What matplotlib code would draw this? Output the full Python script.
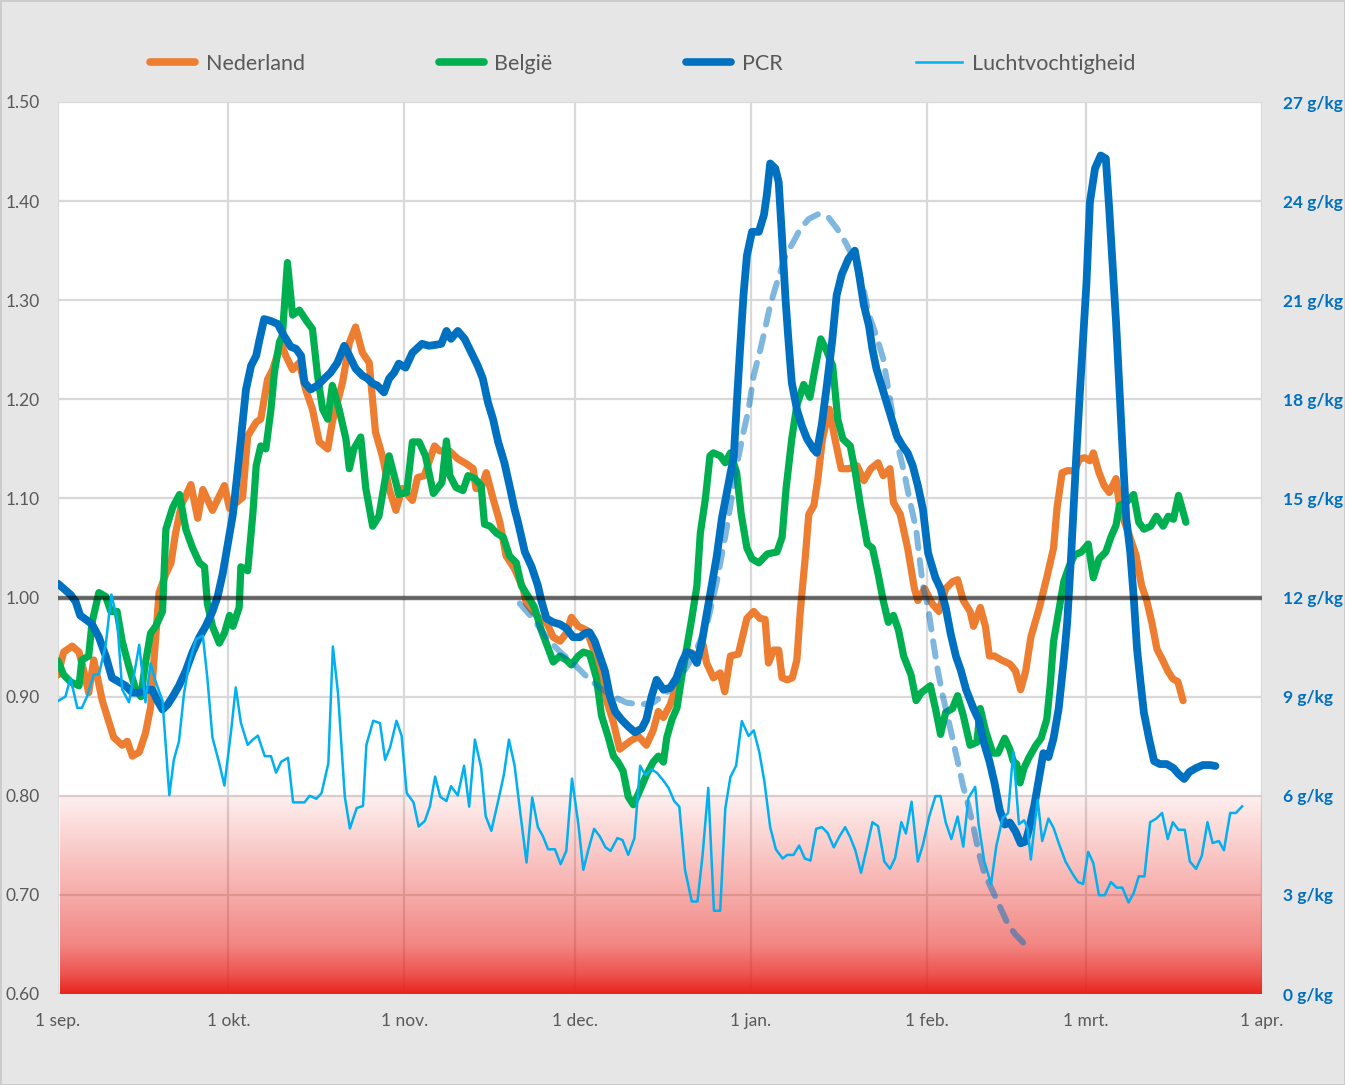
import numpy as np
import matplotlib
matplotlib.use("Agg")
import matplotlib.pyplot as plt
from matplotlib.lines import Line2D

plt.rcParams['font.family'] = ['Lato', 'DejaVu Sans']

# x = dagen sinds 1 sep.
maand_dag = [0, 30, 61, 91, 122, 153, 181, 212]
maand_label = ['1 sep.', '1 okt.', '1 nov.', '1 dec.', '1 jan.', '1 feb.', '1 mrt.', '1 apr.']

# Nederland (oranje)
ned_dag = [0, 1.0, 2.5, 3.7, 4.7, 5.4, 6.3, 7.8, 9.0, 9.8, 11.3, 12.2, 13.1, 14.3, 15.4, 16.3, 16.9,
           17.8, 19.0, 19.9, 20.7, 21.7, 23.4, 24.6, 25.5, 27.2, 29.3, 30.2, 32.5, 33.4, 34.9, 35.7,
           36.9, 37.8, 39.3, 40.1, 41.3, 42.5, 43.6, 44.8, 46.0, 47.5, 48.3, 50.1, 51.3, 52.4, 53.6,
           54.8, 55.9, 57.1, 58.3, 59.5, 60.6, 62.4, 63.3, 64.5, 66.3, 67.2, 68.9, 70.4, 71.9, 73.1,
           73.6, 74.5, 75.4, 76.6, 77.8, 78.9, 80.4, 81.9, 82.5, 83.6, 84.8, 86.0, 87.2, 88.4, 89.5,
           90.4, 91.6, 93.1, 94.2, 95.4, 96.6, 97.8, 98.9, 100.7, 102.2, 103.6, 104.8, 105.7, 106.6,
           107.8, 108.9, 110.1, 111.3, 112.5, 113.6, 114.2, 115.4, 116.6, 117.4, 118.4, 119.8, 121.3,
           122.5, 123.6, 124.5, 125.1, 126.0, 126.9, 127.5, 128.4, 129.3, 130.1, 130.7, 131.6, 132.2,
           133.1, 133.8, 134.6, 135.8, 136.7, 137.9, 139.2, 140.7, 141.9, 143.1, 144.4, 145.3, 146.5,
           147.1, 148.3, 149.6, 150.8, 151.4, 152.6, 153.9, 155.1, 156.3, 157.5, 158.4, 159.4, 160.6,
           161.2, 162.4, 163.3, 164.0, 164.9, 166.1, 167.6, 168.6, 169.5, 170.4, 171.3, 172.8, 174.1,
           175.3, 175.9, 176.8, 177.7, 179.0, 179.9, 180.8, 181.7, 182.3, 183.3, 184.2, 185.1, 186.3,
           186.9, 187.8, 188.8, 189.8, 190.8, 191.7, 192.6, 193.5, 194.5, 195.4, 196.3, 197.2, 198.1]
ned_val = [0.922, 0.945, 0.951, 0.945, 0.922, 0.904, 0.937, 0.896, 0.874, 0.859, 0.851, 0.855, 0.840,
           0.844, 0.863, 0.889, 0.937, 1.005, 1.024, 1.035, 1.065, 1.093, 1.114, 1.080, 1.109, 1.088,
           1.113, 1.090, 1.101, 1.163, 1.177, 1.180, 1.220, 1.230, 1.257, 1.244, 1.230, 1.237, 1.210,
           1.190, 1.157, 1.150, 1.177, 1.217, 1.257, 1.273, 1.247, 1.237, 1.167, 1.143, 1.110, 1.088,
           1.110, 1.098, 1.121, 1.123, 1.153, 1.148, 1.148, 1.140, 1.135, 1.130, 1.110, 1.110, 1.126,
           1.100, 1.076, 1.042, 1.029, 1.009, 0.994, 0.986, 0.979, 0.975, 0.960, 0.956, 0.964, 0.980,
           0.971, 0.967, 0.949, 0.926, 0.896, 0.874, 0.847, 0.855, 0.860, 0.851, 0.866, 0.885, 0.879,
           0.892, 0.911, 0.937, 0.945, 0.941, 0.952, 0.934, 0.919, 0.924, 0.905, 0.941, 0.943, 0.979,
           0.986, 0.979, 0.978, 0.934, 0.947, 0.947, 0.919, 0.917, 0.919, 0.937, 0.986, 1.042, 1.084,
           1.093, 1.120, 1.160, 1.190, 1.163, 1.130, 1.130, 1.133, 1.118, 1.130, 1.136, 1.123, 1.130,
           1.096, 1.084, 1.050, 1.009, 0.997, 1.009, 0.994, 0.986, 1.009, 1.016, 1.018, 0.997, 0.986,
           0.971, 0.990, 0.971, 0.941, 0.941, 0.937, 0.933, 0.926, 0.907, 0.926, 0.960, 0.990, 1.020,
           1.050, 1.090, 1.126, 1.128, 1.128, 1.140, 1.141, 1.138, 1.146, 1.126, 1.113, 1.106, 1.120,
           1.093, 1.076, 1.060, 1.043, 1.012, 0.997, 0.975, 0.948, 0.937, 0.926, 0.918, 0.915, 0.896]

# België (groen)
bel_dag = [0, 1.0, 2.2, 3.7, 4.2, 5.4, 6.0, 7.2, 8.4, 9.3, 10.4, 11.3, 12.5, 13.7, 14.6, 15.4, 16.3,
           17.2, 18.4, 19.0, 20.2, 21.4, 22.5, 23.7, 24.9, 25.8, 26.3, 27.2, 28.4, 29.3, 30.2, 30.8,
           31.9, 32.2, 33.4, 34.3, 34.9, 35.7, 36.6, 37.5, 38.1, 39.0, 39.5, 40.4, 41.3, 42.5, 43.9,
           44.8, 45.7, 46.6, 47.5, 48.3, 49.5, 50.7, 51.3, 52.1, 53.3, 54.2, 55.4, 56.5, 58.3, 59.5,
           60.0, 61.4, 62.4, 63.6, 64.7, 66.1, 67.6, 68.4, 69.0, 70.1, 71.3, 72.2, 73.4, 74.5, 75.1,
           76.1, 77.2, 78.4, 79.5, 80.7, 81.6, 82.8, 83.9, 85.1, 86.3, 87.2, 88.4, 89.5, 90.4, 91.6,
           92.5, 93.6, 94.8, 95.7, 96.9, 97.8, 98.6, 99.5, 100.4, 101.3, 102.2, 103.6, 104.8, 105.7,
           106.6, 107.2, 108.1, 109.0, 109.8, 110.7, 111.6, 112.5, 113.1, 114.0, 114.8, 115.4, 116.6,
           117.5, 118.4, 119.5, 120.3, 121.3, 122.2, 123.4, 124.9, 126.6, 127.5, 128.2, 129.2, 130.1,
           131.3, 132.4, 133.3, 134.3, 135.2, 136.4, 137.3, 138.2, 139.5, 140.4, 141.3, 142.5, 143.4,
           144.4, 145.3, 146.2, 147.1, 148.0, 148.9, 150.2, 151.1, 152.0, 153.6, 154.5, 155.4, 156.3,
           157.5, 158.4, 159.4, 160.6, 161.8, 162.4, 163.3, 164.6, 165.5, 166.7, 167.6, 168.2, 168.8,
           169.4, 170.1, 171.0, 172.2, 173.1, 174.1, 174.7, 175.3, 176.2, 177.1, 178.0, 179.0, 180.2,
           181.4, 182.3, 183.3, 184.5, 185.4, 186.3, 186.9, 188.1, 189.4, 190.3, 191.2, 192.4, 193.4,
           194.6, 195.5, 196.4, 197.3, 198.6]
bel_val = [0.936, 0.922, 0.915, 0.911, 0.937, 0.941, 0.975, 1.005, 1.001, 0.986, 0.986, 0.956, 0.930,
           0.907, 0.900, 0.934, 0.964, 0.971, 0.986, 1.069, 1.091, 1.104, 1.069, 1.050, 1.035, 1.031,
           0.994, 0.971, 0.954, 0.964, 0.982, 0.971, 0.990, 1.031, 1.027, 1.084, 1.133, 1.153, 1.150,
           1.190, 1.227, 1.258, 1.264, 1.338, 1.285, 1.290, 1.278, 1.271, 1.224, 1.190, 1.180, 1.214,
           1.190, 1.160, 1.130, 1.150, 1.162, 1.110, 1.072, 1.082, 1.143, 1.116, 1.104, 1.106, 1.157,
           1.157, 1.143, 1.105, 1.116, 1.158, 1.123, 1.111, 1.108, 1.123, 1.120, 1.113, 1.074, 1.072,
           1.065, 1.061, 1.042, 1.035, 1.012, 1.001, 0.990, 0.967, 0.949, 0.935, 0.941, 0.937, 0.932,
           0.941, 0.945, 0.943, 0.919, 0.881, 0.859, 0.840, 0.834, 0.825, 0.799, 0.791, 0.802, 0.821,
           0.834, 0.840, 0.834, 0.859, 0.877, 0.889, 0.919, 0.949, 0.979, 1.012, 1.065, 1.100, 1.143,
           1.146, 1.143, 1.136, 1.146, 1.126, 1.084, 1.050, 1.039, 1.035, 1.044, 1.046, 1.061, 1.110,
           1.160, 1.194, 1.215, 1.202, 1.231, 1.261, 1.251, 1.234, 1.180, 1.160, 1.153, 1.126, 1.093,
           1.054, 1.050, 1.024, 0.997, 0.975, 0.982, 0.967, 0.941, 0.922, 0.896, 0.904, 0.911, 0.888,
           0.862, 0.884, 0.888, 0.901, 0.881, 0.851, 0.854, 0.888, 0.866, 0.843, 0.843, 0.858, 0.847,
           0.835, 0.832, 0.813, 0.828, 0.839, 0.851, 0.858, 0.877, 0.911, 0.956, 0.986, 1.016, 1.031,
           1.043, 1.046, 1.054, 1.020, 1.039, 1.046, 1.061, 1.073, 1.093, 1.096, 1.104, 1.076, 1.069,
           1.072, 1.082, 1.072, 1.082, 1.079, 1.103, 1.076]

# PCR (blauw)
pcr_dag = [0, 1.0, 2.2, 3.1, 3.9, 5.1, 6.0, 7.2, 8.4, 9.5, 10.7, 11.9, 13.1, 14.3, 15.4, 16.6, 17.5,
           18.4, 19.3, 20.2, 21.3, 22.5, 23.7, 24.9, 26.0, 27.2, 28.1, 29.0, 29.9, 30.8, 31.6, 32.5,
           33.1, 34.0, 34.9, 35.4, 36.3, 37.5, 38.7, 39.8, 41.0, 41.9, 42.8, 43.4, 44.5, 45.7, 46.9,
           48.0, 49.2, 50.4, 51.3, 52.4, 53.6, 54.5, 55.4, 56.2, 57.4, 58.3, 59.2, 60.0, 61.2, 62.4,
           64.1, 65.3, 66.5, 67.5, 68.4, 69.2, 70.4, 71.6, 72.8, 73.9, 74.8, 75.7, 76.6, 77.5, 78.6,
           79.5, 80.4, 81.0, 82.2, 83.4, 84.5, 85.1, 86.0, 87.2, 88.4, 89.5, 90.7, 91.9, 92.8, 93.6,
           94.5, 95.4, 96.3, 97.2, 98.1, 99.2, 100.4, 101.6, 102.8, 103.6, 104.5, 105.4, 106.6, 107.8,
           108.9, 109.8, 110.7, 111.6, 112.5, 113.4, 114.3, 115.1, 116.0, 116.9, 118.1, 119.0, 119.5,
           120.1, 120.7, 121.3, 122.2, 123.4, 124.3, 124.8, 125.4, 126.3, 126.9, 127.5, 128.1, 128.6,
           129.2, 130.1, 131.0, 131.9, 133.0, 133.6, 134.5, 135.4, 136.3, 137.1, 138.0, 139.2, 140.3,
           141.0, 141.9, 142.8, 143.4, 144.1, 145.0, 145.9, 146.8, 147.7, 148.7, 149.6, 150.5, 151.4,
           152.3, 153.2, 154.5, 155.4, 156.3, 157.2, 158.1, 159.0, 159.9, 161.2, 162.1, 163.0, 164.0,
           164.9, 165.8, 166.7, 167.6, 168.6, 169.5, 170.4, 171.0, 171.9, 172.8, 173.5, 174.4, 175.3,
           176.2, 177.1, 177.7, 178.0, 178.4, 179.3, 179.9, 180.5, 181.1, 181.7, 182.6, 183.6, 184.5,
           185.1, 185.7, 186.3, 186.9, 187.5, 188.1, 188.8, 189.4, 190.0, 190.6, 191.2, 192.1, 193.0,
           194.0, 195.2, 196.4, 197.3, 198.3, 199.2, 200.4, 201.6, 202.9, 203.8]
pcr_val = [1.014, 1.009, 1.003, 0.996, 0.982, 0.977, 0.973, 0.960, 0.941, 0.919, 0.915, 0.911, 0.904,
           0.904, 0.907, 0.907, 0.896, 0.887, 0.892, 0.900, 0.911, 0.926, 0.945, 0.960, 0.971, 0.986,
           1.001, 1.024, 1.054, 1.084, 1.126, 1.177, 1.210, 1.234, 1.244, 1.258, 1.281, 1.279, 1.276,
           1.264, 1.253, 1.251, 1.244, 1.217, 1.210, 1.214, 1.221, 1.227, 1.237, 1.254, 1.244, 1.231,
           1.224, 1.221, 1.216, 1.214, 1.207, 1.221, 1.227, 1.236, 1.232, 1.247, 1.256, 1.254, 1.255,
           1.256, 1.269, 1.261, 1.269, 1.261, 1.247, 1.234, 1.221, 1.197, 1.180, 1.157, 1.136, 1.113,
           1.089, 1.076, 1.046, 1.031, 1.012, 0.997, 0.979, 0.975, 0.973, 0.969, 0.960, 0.960, 0.964,
           0.965, 0.956, 0.941, 0.926, 0.900, 0.885, 0.877, 0.870, 0.864, 0.868, 0.877, 0.900, 0.917,
           0.907, 0.909, 0.919, 0.934, 0.945, 0.943, 0.934, 0.956, 0.986, 1.012, 1.042, 1.080, 1.116,
           1.143, 1.194, 1.251, 1.305, 1.345, 1.369, 1.369, 1.386, 1.406, 1.438, 1.433, 1.419, 1.362,
           1.301, 1.261, 1.217, 1.190, 1.173, 1.160, 1.150, 1.146, 1.175, 1.215, 1.258, 1.305, 1.326,
           1.342, 1.350, 1.328, 1.295, 1.274, 1.251, 1.231, 1.214, 1.197, 1.180, 1.163, 1.153, 1.146,
           1.133, 1.113, 1.089, 1.045, 1.020, 1.009, 0.990, 0.963, 0.941, 0.926, 0.907, 0.888, 0.877,
           0.854, 0.835, 0.813, 0.786, 0.771, 0.773, 0.764, 0.752, 0.754, 0.767, 0.790, 0.820, 0.843,
           0.839, 0.858, 0.888, 0.937, 0.975, 1.005, 1.043, 1.143, 1.204, 1.261, 1.318, 1.399, 1.433,
           1.446, 1.443, 1.392, 1.335, 1.278, 1.210, 1.143, 1.080, 1.046, 1.001, 0.948, 0.915, 0.884,
           0.858, 0.835, 0.832, 0.832, 0.828, 0.822, 0.817, 0.824, 0.828, 0.831, 0.831, 0.830]

# gestippelde lijn (PCR verwachting)
prog_dag = [81.3, 83.6, 86.0, 88.4, 90.7, 93.1, 95.4, 97.8, 100.1, 102.5, 104.8, 107.2, 109.5, 111.9,
            114.2, 116.0, 117.5, 118.4, 119.5, 120.7, 121.6, 122.5, 123.7, 124.5, 125.4, 126.6, 128.1,
            129.5, 130.7, 132.2, 133.9, 135.6, 137.2, 138.8, 140.4, 141.6, 142.8, 144.1, 145.3, 146.2,
            147.1, 148.0, 149.0, 149.9, 151.1, 151.7, 152.3, 153.2, 153.9, 154.8, 155.7, 156.6, 157.5,
            158.4, 159.4, 160.3, 161.2, 162.2, 163.1, 164.0, 164.9, 166.1, 167.3, 168.6, 170.1]
prog_val = [0.994, 0.979, 0.960, 0.945, 0.934, 0.920, 0.909, 0.900, 0.894, 0.892, 0.894, 0.904, 0.919,
            0.941, 0.971, 1.016, 1.062, 1.093, 1.133, 1.167, 1.190, 1.224, 1.251, 1.271, 1.295, 1.318,
            1.345, 1.359, 1.372, 1.382, 1.387, 1.384, 1.372, 1.357, 1.338, 1.318, 1.285, 1.264, 1.241,
            1.210, 1.180, 1.150, 1.126, 1.100, 1.069, 1.039, 1.012, 0.990, 0.963, 0.930, 0.903, 0.881,
            0.858, 0.835, 0.809, 0.790, 0.768, 0.741, 0.722, 0.711, 0.700, 0.685, 0.670, 0.660, 0.651]

# Luchtvochtigheid (g/kg, rechter as)
lv_dag = [0.1, 1.3, 2.2, 3.4, 4.2, 5.1, 6.3, 7.2, 8.4, 9.4, 10.4, 11.3, 12.5, 13.4, 14.3, 15.4, 16.3,
          17.2, 18.4, 19.6, 20.4, 21.3, 22.2, 23.1, 24.3, 25.5, 26.3, 27.2, 28.4, 29.3, 30.5, 31.3,
          32.2, 33.4, 34.3, 35.2, 36.4, 37.5, 38.4, 39.3, 40.5, 41.4, 42.4, 43.4, 44.3, 45.5, 46.4,
          47.6, 48.4, 49.3, 50.5, 51.4, 52.6, 53.7, 54.3, 55.5, 56.7, 57.6, 58.5, 59.6, 60.5, 61.4,
          62.6, 63.5, 64.6, 65.5, 66.4, 67.3, 68.4, 69.2, 70.4, 71.5, 72.4, 73.4, 74.5, 75.3, 76.3,
          77.5, 78.5, 79.4, 80.4, 81.3, 82.5, 83.5, 84.5, 85.4, 86.3, 87.5, 88.5, 89.5, 90.5, 91.6,
          92.5, 93.4, 94.4, 95.4, 96.4, 97.3, 98.5, 99.4, 100.4, 101.5, 102.5, 103.4, 104.5, 105.5,
          106.6, 107.5, 108.5, 109.4, 110.4, 111.6, 112.6, 113.5, 114.5, 115.5, 116.6, 117.5, 118.4,
          119.4, 120.4, 121.6, 122.5, 123.5, 124.4, 125.4, 126.4, 127.6, 128.4, 129.5, 130.5, 131.5,
          132.5, 133.5, 134.5, 135.5, 136.6, 137.6, 138.6, 139.5, 140.4, 141.4, 142.4, 143.4, 144.4,
          145.5, 146.5, 147.4, 148.5, 149.3, 150.3, 151.4, 152.3, 153.4, 154.5, 155.4, 156.3, 157.3,
          158.4, 159.4, 160.3, 161.5, 162.1, 163.1, 164.3, 165.2, 166.3, 167.3, 168.2, 169.2, 170.1,
          170.7, 171.3, 171.9, 172.5, 173.3, 174.4, 175.3, 176.2, 177.4, 178.7, 179.6, 180.5, 181.4,
          182.3, 183.3, 184.3, 185.4, 186.4, 187.4, 188.5, 189.4, 190.3, 191.3, 192.3, 193.4, 194.4,
          195.4, 196.3, 197.3, 198.4, 199.3, 200.4, 201.4, 202.4, 203.3, 204.4, 205.3, 206.4, 207.4,
          208.5]
lv_val = [8.88, 9.00, 9.56, 8.66, 8.66, 9.00, 9.67, 9.67, 10.57, 12.09, 11.36, 9.22, 8.83, 9.67, 10.57,
          8.83, 10.01, 9.45, 8.88, 6.02, 7.09, 7.65, 9.11, 10.01, 10.74, 10.85, 9.56, 7.76, 6.98, 6.31,
          7.99, 9.28, 8.21, 7.54, 7.70, 7.82, 7.20, 7.20, 6.70, 7.03, 7.15, 5.80, 5.80, 5.80, 6.00, 5.91,
          6.08, 6.98, 10.52, 9.11, 5.97, 5.01, 5.63, 5.69, 7.54, 8.27, 8.20, 7.09, 7.48, 8.27, 7.82,
          6.08, 5.80, 5.07, 5.24, 5.69, 6.58, 5.97, 5.84, 6.29, 6.01, 6.91, 5.67, 7.70, 6.86, 5.39,
          4.94, 5.84, 6.63, 7.70, 6.91, 5.62, 3.98, 5.95, 5.05, 4.77, 4.38, 4.38, 3.93, 4.33, 6.52,
          5.17, 3.76, 4.38, 5.00, 4.77, 4.44, 4.33, 4.72, 4.66, 4.21, 4.72, 6.91, 6.63, 6.80, 6.69,
          6.46, 6.24, 5.84, 5.67, 3.76, 2.80, 2.80, 4.21, 6.24, 2.52, 2.52, 5.62, 6.57, 6.91, 8.26,
          7.81, 7.98, 7.31, 6.41, 5.05, 4.38, 4.10, 4.21, 4.21, 4.49, 4.10, 4.04, 5.00, 5.05, 4.88,
          4.44, 4.77, 5.05, 4.74, 4.35, 3.67, 4.41, 5.20, 5.08, 4.01, 3.79, 4.12, 5.20, 4.86, 5.82,
          4.01, 4.52, 5.37, 5.99, 5.99, 5.20, 4.69, 5.37, 4.46, 5.93, 6.27, 5.14, 4.01, 3.33, 4.46,
          5.31, 5.48, 7.34, 5.14, 5.26, 5.03, 4.07, 5.03, 5.88, 4.63, 5.31, 5.03, 4.57, 4.01, 3.62,
          3.39, 3.33, 4.30, 3.96, 2.99, 2.99, 3.39, 3.22, 3.22, 2.77, 3.05, 3.56, 3.56, 5.20, 5.31,
          5.48, 4.69, 5.20, 4.97, 4.97, 4.01, 3.79, 4.18, 5.20, 4.57, 4.63, 4.35, 5.48, 5.48, 5.68]

links_ticks = [0.6, 0.7, 0.8, 0.9, 1.0, 1.1, 1.2, 1.3, 1.4, 1.5]
rechts_ticks = [0, 3, 6, 9, 12, 15, 18, 21, 24, 27]

grijs = '#595959'
c_ned = '#ed7d31'
c_bel = '#00b050'
c_pcr = '#0070c0'
c_lv = '#00b0f0'

fig = plt.figure(figsize=(13.45, 10.85), dpi=100, facecolor='#e7e6e6',
                 edgecolor='#cccccc', linewidth=2)
ax = fig.add_axes([58 / 1345, 91 / 1085, 1204 / 1345, 892 / 1085])
ax.set_facecolor('white')

# rode zone onder 0.80 (verloop: licht boven, rood onder)
n = 300
t = np.linspace(0, 1, n)
alpha = np.interp(t, [0, 0.5, 0.75, 0.9, 1.0], [0.07, 0.38, 0.55, 0.78, 1.0])
img = np.zeros((n, 1, 4))
img[:, 0, 0] = 0.91
img[:, 0, 1] = 0.14
img[:, 0, 2] = 0.11
img[:, 0, 3] = alpha
ax.imshow(img, extent=[0.4, 212, 0.6, 0.8], aspect='auto', origin='upper',
          interpolation='bilinear', zorder=1)

ax.plot(ned_dag, ned_val, color=c_ned, lw=5.2, solid_joinstyle='round',
        solid_capstyle='round', zorder=2)
ax.plot(bel_dag, bel_val, color=c_bel, lw=5.2, solid_joinstyle='round',
        solid_capstyle='round', zorder=3)
ax.plot(prog_dag, prog_val, color=c_pcr, alpha=0.5, lw=4.3, dashes=(2.6, 2.0),
        dash_capstyle='round', dash_joinstyle='round', zorder=3.5)
ax.plot(pcr_dag, pcr_val, color=c_pcr, lw=5.6, solid_joinstyle='round',
        solid_capstyle='round', zorder=4)
ax.axhline(1.0, color='black', alpha=0.55, lw=3.2, zorder=5)

ax.set_xlim(0, 212)
ax.set_ylim(0.6, 1.5)
ax.set_xticks(maand_dag, maand_label)
ax.set_yticks(links_ticks, [f'{v:.2f}' for v in links_ticks])
ax.grid(color='#d9d9d9', lw=1.6)
ax.set_axisbelow(True)
ax.tick_params(axis='y', length=0, pad=13, labelsize=12.5, labelcolor=grijs)
ax.tick_params(axis='x', length=0, pad=14, labelsize=12.5, labelcolor=grijs)
for s in ax.spines.values():
    s.set_visible(False)

ax2 = ax.twinx()
ax2.plot(lv_dag, lv_val, color=c_lv, lw=1.8, solid_joinstyle='round', zorder=6)
ax2.set_ylim(0, 27)
ax2.set_yticks(rechts_ticks, [f'{v} g/kg' for v in rechts_ticks])
ax2.tick_params(axis='y', length=0, pad=15, labelsize=12.5, labelcolor=c_pcr)
for lab in ax2.get_yticklabels():
    lab.set_fontweight('bold')
for s in ax2.spines.values():
    s.set_visible(False)

handles = [
    Line2D([], [], color=c_ned, lw=5.5, solid_capstyle='round'),
    Line2D([], [], color=c_bel, lw=5.5, solid_capstyle='round'),
    Line2D([], [], color=c_pcr, lw=5.5, solid_capstyle='round'),
    Line2D([], [], color=c_lv, lw=1.8),
]
labels = ['Nederland', 'België', 'PCR', 'Luchtvochtigheid']
fig.legend(handles, labels, loc='center', bbox_to_anchor=(0.478, 0.941), ncol=4,
           frameon=False, fontsize=15.5, handlelength=2.1, handletextpad=0.5,
           columnspacing=6.2, labelcolor=grijs)

fig.savefig('out.png', dpi=100, facecolor=fig.get_facecolor(), edgecolor=fig.get_edgecolor())
